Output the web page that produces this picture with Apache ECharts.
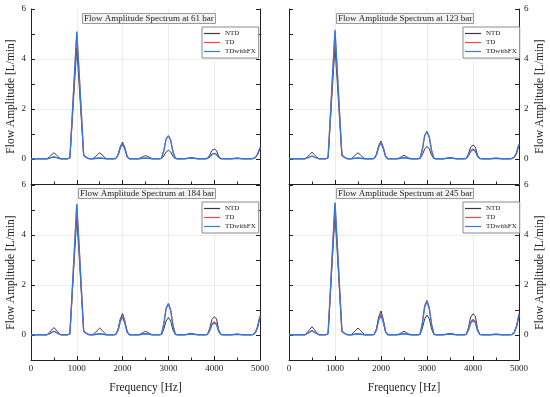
<!DOCTYPE html>
<html>
<head>
<meta charset="utf-8">
<script src="https://cdn.jsdelivr.net/npm/echarts@6/dist/echarts.min.js"></script>
<style>html,body{margin:0;padding:0;background:#fff;}#c{width:550px;height:397px;}</style>
</head>
<body>
<div id="c"></div>
<script>
// Frequency grid [Hz]
const freq = [0,50,100,150,200,250,300,350,400,450,500,550,600,650,700,750,800,850,900,950,
1000,1050,1100,1150,1200,1250,1300,1350,1400,1450,1500,1550,1600,1650,1700,1750,1800,1850,1900,1950,
2000,2050,2100,2150,2200,2250,2300,2350,2400,2450,2500,2550,2600,2650,2700,2750,2800,2850,2900,2950,
3000,3050,3100,3150,3200,3250,3300,3350,3400,3450,3500,3550,3600,3650,3700,3750,3800,3850,3900,3950,
4000,4050,4100,4150,4200,4250,4300,4350,4400,4450,4500,4550,4600,4650,4700,4750,4800,4850,4900,4950,5000];

const seriesNames = ['NTD','TD','TDwithFX'];
const panelTitles = ['Flow Amplitude Spectrum at 61 bar','Flow Amplitude Spectrum at 123 bar',
                     'Flow Amplitude Spectrum at 184 bar','Flow Amplitude Spectrum at 245 bar'];
const xTicks = [0,1000,2000,3000,4000,5000];
const yTickLabels = [0,2,4,6];

// ---- 61 bar ----
const ntd61 = [0.01,0.01,0.01,0.01,0.01,0.01,0.01,
0.01,0.08,0.17,0.25,0.17,0.08,0.01, 0.01,0.01,0.01,
0.05,1.50,3.00,4.45,3.00,1.55,0.13, 0.07,0.02,0.01,
0.01,0.08,0.17,0.25,0.17,0.08,0.01, 0.01,0.01,0.01,
0.02,0.17,0.50,0.68,0.45,0.10,0.01, 0.01,0.01,0.01,
0.01,0.05,0.10,0.14,0.10,0.05,0.01, 0.01,0.01,0.01,
0.02,0.12,0.28,0.35,0.28,0.10,0.02, 0.01,0.01,0.01,
0.01,0.02,0.04,0.06,0.04,0.02,0.01, 0.01,0.01,0.01,
0.02,0.15,0.34,0.40,0.34,0.10,0.02, 0.01,0.01,0.01,
0.01,0.02,0.03,0.04,0.03,0.02,0.01, 0.01,0.01,0.01,
0.02,0.06,0.20,0.42];
const td61 = [0.01,0.01,0.01,0.01,0.01,0.01,0.01,
0.01,0.03,0.06,0.08,0.06,0.03,0.01, 0.01,0.01,0.01,
0.05,1.70,3.40,5.05,3.45,1.80,0.15, 0.08,0.02,0.01,
0.01,0.02,0.03,0.04,0.03,0.02,0.01, 0.01,0.01,0.01,
0.02,0.15,0.45,0.60,0.40,0.09,0.01, 0.01,0.01,0.01,
0.01,0.02,0.03,0.04,0.03,0.02,0.01, 0.01,0.01,0.01,
0.03,0.33,0.80,0.93,0.75,0.28,0.03, 0.01,0.01,0.01,
0.01,0.02,0.03,0.03,0.03,0.02,0.01, 0.01,0.01,0.01,
0.02,0.08,0.19,0.23,0.19,0.06,0.01, 0.01,0.01,0.01,
0.01,0.01,0.02,0.02,0.02,0.01,0.01, 0.01,0.01,0.01,
0.02,0.06,0.20,0.45];
const fx61 = [0.01,0.01,0.01,0.01,0.01,0.01,0.01,
0.01,0.03,0.06,0.08,0.06,0.03,0.01, 0.01,0.01,0.01,
0.05,1.72,3.43,5.10,3.47,1.81,0.15, 0.08,0.02,0.01,
0.01,0.02,0.03,0.04,0.03,0.02,0.01, 0.01,0.01,0.01,
0.02,0.15,0.45,0.60,0.40,0.09,0.01, 0.01,0.01,0.01,
0.01,0.02,0.03,0.04,0.03,0.02,0.01, 0.01,0.01,0.01,
0.03,0.33,0.80,0.93,0.75,0.28,0.03, 0.01,0.01,0.01,
0.01,0.02,0.03,0.03,0.03,0.02,0.01, 0.01,0.01,0.01,
0.02,0.08,0.18,0.22,0.18,0.06,0.01, 0.01,0.01,0.01,
0.01,0.01,0.02,0.02,0.02,0.01,0.01, 0.01,0.01,0.01,
0.02,0.06,0.20,0.45];

// ---- 123 bar ----
const ntd123 = [0.01,0.01,0.01,0.01,0.01,0.01,0.01,
0.01,0.09,0.18,0.27,0.18,0.09,0.01, 0.01,0.01,0.01,
0.05,1.52,3.03,4.50,3.05,1.57,0.13, 0.07,0.02,0.01,
0.01,0.08,0.17,0.25,0.17,0.08,0.01, 0.01,0.01,0.01,
0.02,0.18,0.54,0.72,0.47,0.11,0.01, 0.01,0.01,0.01,
0.01,0.05,0.10,0.15,0.10,0.05,0.01, 0.01,0.01,0.01,
0.02,0.17,0.40,0.50,0.40,0.15,0.02, 0.01,0.01,0.01,
0.01,0.02,0.04,0.06,0.04,0.02,0.01, 0.01,0.01,0.01,
0.02,0.20,0.48,0.56,0.48,0.15,0.02, 0.01,0.01,0.01,
0.01,0.02,0.03,0.04,0.03,0.02,0.01, 0.01,0.01,0.01,
0.02,0.08,0.25,0.58];
const td123 = [0.01,0.01,0.01,0.01,0.01,0.01,0.01,
0.01,0.04,0.08,0.12,0.08,0.04,0.01, 0.01,0.01,0.01,
0.05,1.72,3.44,5.10,3.48,1.80,0.15, 0.08,0.02,0.01,
0.01,0.02,0.03,0.04,0.03,0.02,0.01, 0.01,0.01,0.01,
0.02,0.17,0.50,0.67,0.44,0.10,0.01, 0.01,0.01,0.01,
0.01,0.02,0.04,0.05,0.04,0.02,0.01, 0.01,0.01,0.01,
0.03,0.39,0.94,1.10,0.87,0.33,0.03, 0.01,0.01,0.01,
0.01,0.02,0.03,0.03,0.03,0.02,0.01, 0.01,0.01,0.01,
0.02,0.14,0.33,0.40,0.33,0.11,0.02, 0.01,0.01,0.01,
0.01,0.01,0.02,0.02,0.02,0.01,0.01, 0.01,0.01,0.01,
0.02,0.08,0.26,0.60];
const fx123 = [0.01,0.01,0.01,0.01,0.01,0.01,0.01,
0.01,0.04,0.08,0.12,0.08,0.04,0.01, 0.01,0.01,0.01,
0.05,1.74,3.48,5.17,3.52,1.82,0.15, 0.08,0.02,0.01,
0.01,0.02,0.03,0.04,0.03,0.02,0.01, 0.01,0.01,0.01,
0.02,0.16,0.48,0.64,0.42,0.10,0.01, 0.01,0.01,0.01,
0.01,0.02,0.04,0.05,0.04,0.02,0.01, 0.01,0.01,0.01,
0.03,0.39,0.94,1.10,0.87,0.33,0.03, 0.01,0.01,0.01,
0.01,0.02,0.03,0.03,0.03,0.02,0.01, 0.01,0.01,0.01,
0.02,0.13,0.31,0.37,0.31,0.10,0.02, 0.01,0.01,0.01,
0.01,0.01,0.02,0.02,0.02,0.01,0.01, 0.01,0.01,0.01,
0.02,0.08,0.26,0.60];

// ---- 184 bar ----
const ntd184 = [0.01,0.01,0.01,0.01,0.01,0.01,0.01,
0.01,0.10,0.20,0.30,0.20,0.10,0.01, 0.01,0.01,0.01,
0.05,1.60,3.17,4.70,3.20,1.65,0.14, 0.07,0.02,0.01,
0.01,0.09,0.19,0.28,0.19,0.09,0.01, 0.01,0.01,0.01,
0.02,0.22,0.65,0.86,0.56,0.13,0.01, 0.01,0.01,0.01,
0.01,0.05,0.10,0.15,0.10,0.05,0.01, 0.01,0.01,0.01,
0.02,0.24,0.56,0.70,0.56,0.20,0.02, 0.01,0.01,0.01,
0.01,0.02,0.05,0.07,0.05,0.02,0.01, 0.01,0.01,0.01,
0.02,0.25,0.62,0.73,0.65,0.20,0.02, 0.01,0.01,0.01,
0.01,0.02,0.03,0.04,0.03,0.02,0.01, 0.01,0.01,0.01,
0.02,0.10,0.33,0.75];
const td184 = [0.01,0.01,0.01,0.01,0.01,0.01,0.01,
0.01,0.05,0.10,0.15,0.10,0.05,0.01, 0.01,0.01,0.01,
0.05,1.75,3.50,5.20,3.55,1.84,0.15, 0.08,0.02,0.01,
0.01,0.02,0.04,0.05,0.04,0.02,0.01, 0.01,0.01,0.01,
0.02,0.19,0.56,0.75,0.49,0.11,0.01, 0.01,0.01,0.01,
0.01,0.02,0.04,0.05,0.04,0.02,0.01, 0.01,0.01,0.01,
0.03,0.44,1.07,1.26,1.00,0.38,0.03, 0.01,0.01,0.01,
0.01,0.02,0.03,0.03,0.03,0.02,0.01, 0.01,0.01,0.01,
0.02,0.18,0.44,0.52,0.46,0.15,0.02, 0.01,0.01,0.01,
0.01,0.01,0.02,0.02,0.02,0.01,0.01, 0.01,0.01,0.01,
0.02,0.10,0.34,0.77];
const fx184 = [0.01,0.01,0.01,0.01,0.01,0.01,0.01,
0.01,0.05,0.10,0.15,0.10,0.05,0.01, 0.01,0.01,0.01,
0.05,1.77,3.53,5.25,3.58,1.86,0.15, 0.08,0.02,0.01,
0.01,0.02,0.04,0.05,0.04,0.02,0.01, 0.01,0.01,0.01,
0.02,0.18,0.55,0.73,0.47,0.11,0.01, 0.01,0.01,0.01,
0.01,0.02,0.04,0.05,0.04,0.02,0.01, 0.01,0.01,0.01,
0.03,0.44,1.06,1.25,0.98,0.37,0.03, 0.01,0.01,0.01,
0.01,0.02,0.03,0.03,0.03,0.02,0.01, 0.01,0.01,0.01,
0.02,0.16,0.41,0.48,0.42,0.14,0.02, 0.01,0.01,0.01,
0.01,0.01,0.02,0.02,0.02,0.01,0.01, 0.01,0.01,0.01,
0.02,0.10,0.33,0.75];

// ---- 245 bar ----
const ntd245 = [0.01,0.01,0.01,0.01,0.01,0.01,0.01,
0.01,0.11,0.22,0.33,0.22,0.11,0.01, 0.01,0.01,0.01,
0.05,1.63,3.23,4.80,3.27,1.68,0.14, 0.07,0.02,0.01,
0.01,0.09,0.19,0.28,0.19,0.09,0.01, 0.01,0.01,0.01,
0.02,0.24,0.72,0.96,0.62,0.14,0.01, 0.01,0.01,0.01,
0.01,0.05,0.10,0.15,0.10,0.05,0.01, 0.01,0.01,0.01,
0.02,0.27,0.64,0.80,0.65,0.23,0.02, 0.01,0.01,0.01,
0.01,0.02,0.05,0.07,0.05,0.02,0.01, 0.01,0.01,0.01,
0.02,0.29,0.72,0.85,0.76,0.24,0.02, 0.01,0.01,0.01,
0.01,0.02,0.03,0.04,0.03,0.02,0.01, 0.01,0.01,0.01,
0.02,0.12,0.36,0.82];
const td245 = [0.01,0.01,0.01,0.01,0.01,0.01,0.01,
0.01,0.06,0.12,0.18,0.12,0.06,0.01, 0.01,0.01,0.01,
0.05,1.78,3.56,5.28,3.60,1.87,0.15, 0.08,0.02,0.01,
0.01,0.02,0.04,0.05,0.04,0.02,0.01, 0.01,0.01,0.01,
0.02,0.21,0.64,0.85,0.55,0.13,0.01, 0.01,0.01,0.01,
0.01,0.02,0.04,0.05,0.04,0.02,0.01, 0.01,0.01,0.01,
0.03,0.49,1.18,1.39,1.10,0.42,0.03, 0.01,0.01,0.01,
0.01,0.02,0.03,0.03,0.03,0.02,0.01, 0.01,0.01,0.01,
0.02,0.21,0.53,0.62,0.55,0.18,0.02, 0.01,0.01,0.01,
0.01,0.01,0.02,0.02,0.02,0.01,0.01, 0.01,0.01,0.01,
0.02,0.12,0.38,0.86];
const fx245 = [0.01,0.01,0.01,0.01,0.01,0.01,0.01,
0.01,0.06,0.11,0.17,0.11,0.06,0.01, 0.01,0.01,0.01,
0.05,1.79,3.58,5.30,3.62,1.88,0.15, 0.08,0.02,0.01,
0.01,0.02,0.04,0.05,0.04,0.02,0.01, 0.01,0.01,0.01,
0.02,0.20,0.59,0.79,0.51,0.12,0.01, 0.01,0.01,0.01,
0.01,0.02,0.04,0.05,0.04,0.02,0.01, 0.01,0.01,0.01,
0.03,0.47,1.13,1.33,1.05,0.40,0.03, 0.01,0.01,0.01,
0.01,0.02,0.03,0.03,0.03,0.02,0.01, 0.01,0.01,0.01,
0.02,0.19,0.48,0.57,0.50,0.16,0.02, 0.01,0.01,0.01,
0.01,0.01,0.02,0.02,0.02,0.01,0.01, 0.01,0.01,0.01,
0.02,0.11,0.35,0.80];

const panelData = [[ntd61,td61,fx61],[ntd123,td123,fx123],[ntd184,td184,fx184],[ntd245,td245,fx245]];

// ---- layout / style ----
const FONT = 'Liberation Serif';
const INK = '#222';
const colors = ['#3a3a3a','#ff4040','#2f7be6'];
const widths = [1, 1.2, 1.3];
const grids = [
  {left:31, top:9, width:229, height:175},
  {left:289, top:9, width:230, height:175},
  {left:31, top:185, width:229, height:175},
  {left:289, top:185, width:230, height:175}
];
const titlePos = [[82,13],[336,13],[78,188],[336,188]];
const legendPos = [[202,27],[463,27],[202,202],[463,202]];

const option = {
  backgroundColor:'#fff',
  animation:false,
  grid: grids,
  title: panelTitles.map((t,i)=>({
    text:t, left:titlePos[i][0], top:titlePos[i][1],
    padding:[0,2], borderColor:'#9a9a9a', borderWidth:1, backgroundColor:'#f3f3f3',
    textStyle:{fontFamily:FONT, fontSize:9, fontWeight:'normal', color:INK, lineHeight:11}
  })),
  legend: legendPos.map((p,i)=>({
    data:seriesNames, left:p[0], top:p[1], orient:'vertical', icon:'rect',
    itemWidth:16, itemHeight:1.2, itemGap:0, padding:[2,3,2,2],
    borderColor:'#8a8a8a', borderWidth:1, backgroundColor:'#fff', selectedMode:false,
    textStyle:{fontFamily:FONT, fontSize:7, color:INK, lineHeight:9}
  })),
  xAxis: grids.map((g,i)=>({
    type:'value', gridIndex:i, min:0, max:5000, interval:1000,
    name: i>=2 ? 'Frequency [Hz]' : '', nameLocation:'middle', nameGap:22,
    nameTextStyle:{fontFamily:FONT, fontSize:11.5, color:INK},
    axisLine:{show:true, onZero:false, lineStyle:{color:INK, width:1}},
    axisTick:{show:true, inside:true, length:4, lineStyle:{color:INK}},
    minorTick:{show:true, splitNumber:2, length:2.5, lineStyle:{color:INK}},
    axisLabel:{show:i>=2, margin:4, fontFamily:FONT, fontSize:9, color:INK,
      formatter:v=> xTicks.indexOf(v)>=0 ? String(v) : ''},
    splitLine:{show:true, lineStyle:{color:['transparent','#ececec','#ececec','#ececec','#ececec','transparent'], width:1}}
  })),
  yAxis: [],
  series: []
};

grids.forEach((g,i)=>{
  const isRight = (i%2===1);
  option.yAxis.push({
    type:'value', gridIndex:i, min:-1, max:6, interval:1,
    position: isRight ? 'right' : 'left',
    name:'Flow Amplitude [L/min]', nameLocation:'middle', nameGap: isRight?15:14, nameRotate:90,
    nameTextStyle:{fontFamily:FONT, fontSize:11.5, color:INK},
    axisLine:{show:true, onZero:false, lineStyle:{color:INK, width:1}},
    axisTick:{show:true, inside:true, length:4, lineStyle:{color:INK}},
    axisLabel:{show:true, margin:5, fontFamily:FONT, fontSize:9, color:INK,
      formatter:v=> yTickLabels.indexOf(v)>=0 ? String(v) : ''},
    splitLine:{show:true, showMinLine:true,
      lineStyle:{color:['transparent','transparent','transparent','#ececec','transparent','#ececec','transparent','transparent'], width:1}}
  });
  option.yAxis.push({
    type:'value', gridIndex:i, min:-1, max:6, interval:1,
    position: isRight ? 'left' : 'right',
    axisLine:{show:true, onZero:false, lineStyle:{color:INK, width:1}},
    axisTick:{show:true, inside:true, length:4, lineStyle:{color:INK}},
    axisLabel:{show:false}, splitLine:{show:false}
  });
  panelData[i].forEach((arr,k)=>{
    option.series.push({
      name:seriesNames[k], type:'line', xAxisIndex:i, yAxisIndex:2*i,
      data: freq.map((f,j)=>[f, arr[j]]),
      showSymbol:false, symbol:'none', z:2+k,
      lineStyle:{color:colors[k], width:widths[k]}, itemStyle:{color:colors[k]}
    });
  });
});

const chart = echarts.init(document.getElementById('c'), null, {renderer:'canvas'});
chart.setOption(option);
</script>
</body>
</html>
